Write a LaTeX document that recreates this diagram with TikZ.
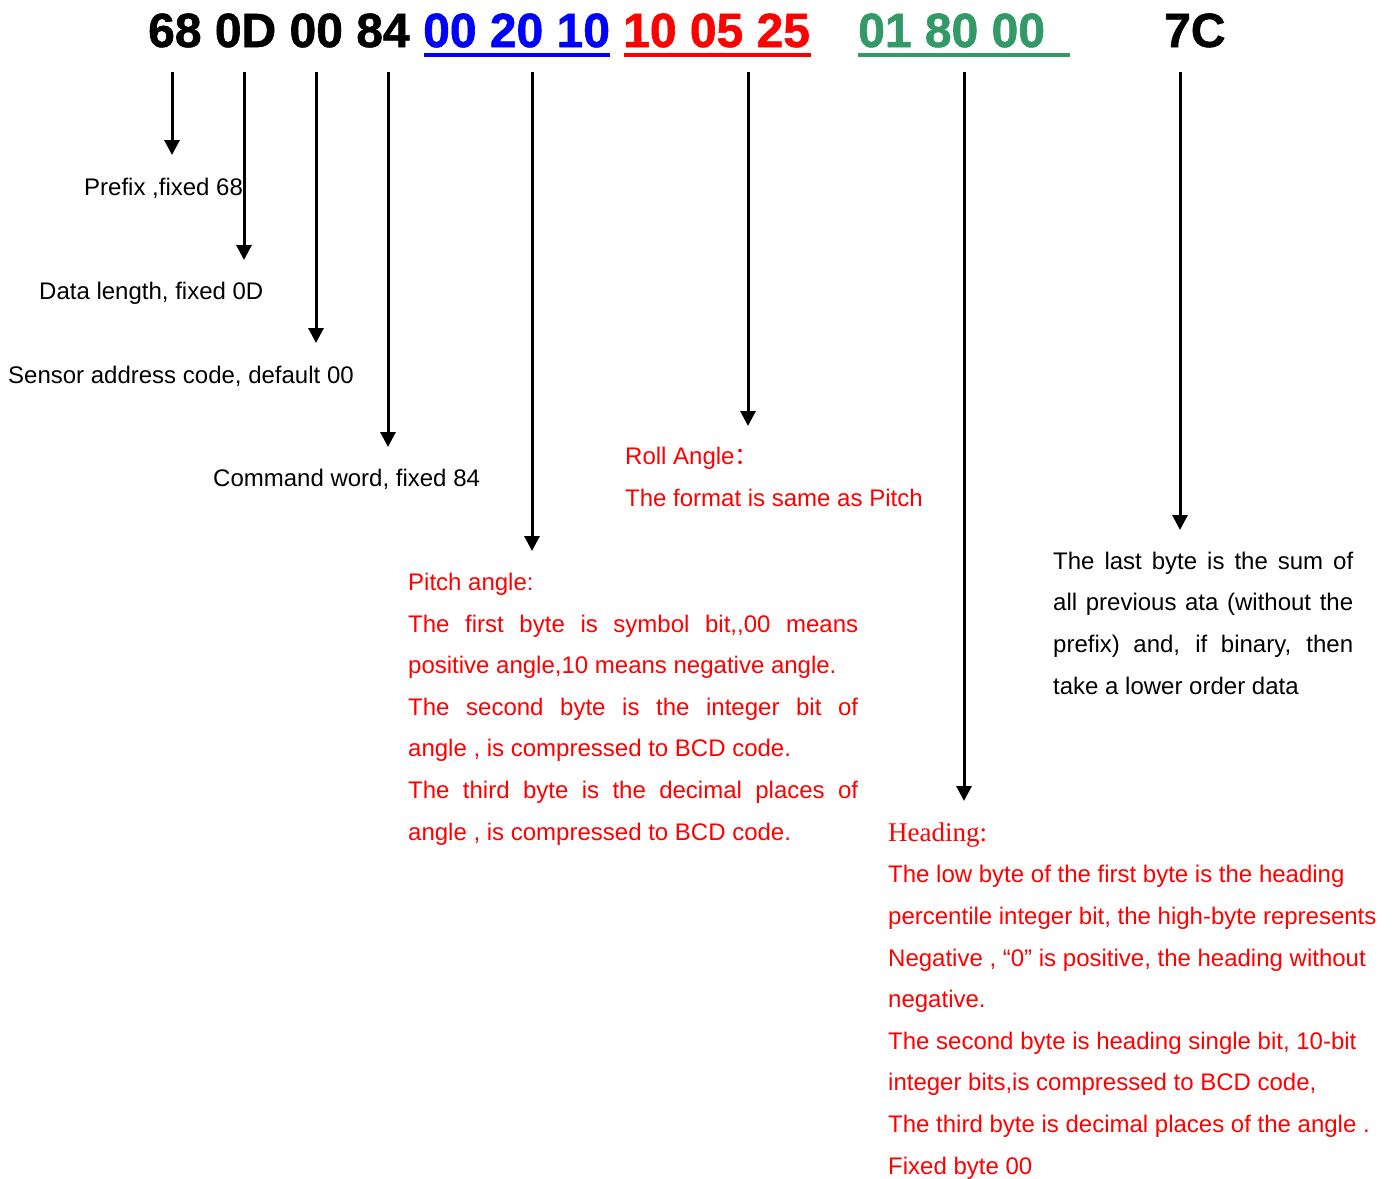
\documentclass[tikz,border=0pt]{standalone}
\usepackage{fontspec}
\setmainfont{Liberation Sans}
\newfontfamily\serifh{Liberation Serif}
\newfontfamily\hdrfont[FakeBold=1.2]{Liberation Sans Bold}
\newfontfamily\cjk{Noto Sans CJK SC}
\usetikzlibrary{arrows.meta}
\definecolor{hblue}{RGB}{0,0,255}
\definecolor{hred}{RGB}{255,0,0}
\definecolor{hgreen}{RGB}{51,153,102}
\newcommand{\jl}[2]{\hbox to #1pt{#2}}
\begin{document}
\begin{tikzpicture}[x=1pt,y=-1pt,
  hdr/.style={anchor=base west,inner sep=0pt,font=\hdrfont\fontsize{48}{48}\selectfont},
  txt/.style={anchor=base west,inner sep=0pt,align=left,font=\fontsize{24}{41.6}\selectfont},
  arr/.style={line width=3pt,-{Triangle[length=15pt,width=15pt]}},
  uline/.style={line width=4pt}]
\useasboundingbox (0,0) rectangle (1394,1178);
% header
\node[hdr] (h1) at (148,47) {68 0D 00 84};
\node[hdr,text=hblue] (h2) at (423,47) {00 20 10};
\node[hdr,text=hred] (h3) at (623,47) {10 05 25};
\node[hdr,text=hgreen] (h4) at (858,47) {01 80 00};
\node[hdr] (h5) at (1164,47) {7C};
% underlines
\coordinate (u2a) at (424,55); \coordinate (u2b) at (610,55);
\coordinate (u3a) at (624,55); \coordinate (u3b) at (811,55);
\coordinate (u4a) at (858,55); \coordinate (u4b) at (1070,55);
\draw[uline,hblue] (u2a) -- (u2b);
\draw[uline,hred] (u3a) -- (u3b);
\draw[uline,hgreen] (u4a) -- (u4b);
% arrow coordinates
\foreach \n/\x/\y in {a/172/155,b/244/260,c/316/343,d/388/447,e/532/551,f/748/426,g/964/801,h/1180/530}{
  \coordinate (s\n) at (\x,72);
  \coordinate (t\n) at (\x,\y);
}
\draw[arr] (sa) -- (ta);
\draw[arr] (sb) -- (tb);
\draw[arr] (sc) -- (tc);
\draw[arr] (sd) -- (td);
\draw[arr] (se) -- (te);
\draw[arr] (sf) -- (tf);
\draw[arr] (sg) -- (tg);
\draw[arr] (sh) -- (th);
% labels (base anchor = baseline of last line)
\node[txt] (prefix) at (84,195) {Prefix ,fixed 68};
\node[txt] (len) at (39,299) {Data length, fixed 0D};
\node[txt] (addr) at (8,383) {Sensor address code, default 00};
\node[txt] (cmd) at (213,486) {Command word, fixed 84};
\node[txt,text=hred] (roll) at (625,506) {Roll Angle{\cjk ：}\\The format is same as Pitch};
\node[txt,text=hred] (pitch) at (408,840) {Pitch angle:\\
\jl{450}{The first byte is symbol bit,{},00 means}\\
positive angle,10 means negative angle.\\
\jl{450}{The second byte is the integer bit of}\\
angle , is compressed to BCD code.\\
\jl{450}{The third byte is the decimal places of}\\
angle , is compressed to BCD code.};
\node[txt] (sum) at (1053,694) {\jl{300}{The last byte is the sum of}\\
\jl{300}{all previous ata (without the}\\
\jl{300}{prefix) and, if binary, then}\\
take a lower order data};
\node[txt,text=hred] (head) at (888,1174) {{\serifh\fontsize{27}{41.6}\selectfont Heading:}\\
The low byte of the first byte is the heading\\
percentile integer bit, the high-byte represents\\
Negative , “0” is positive, the heading without\\
negative.\\
The second byte is heading single bit, 10-bit\\
integer bits,is compressed to BCD code,\\
The third byte is decimal places of the angle .\\
Fixed byte 00};
\end{tikzpicture}
\end{document}
